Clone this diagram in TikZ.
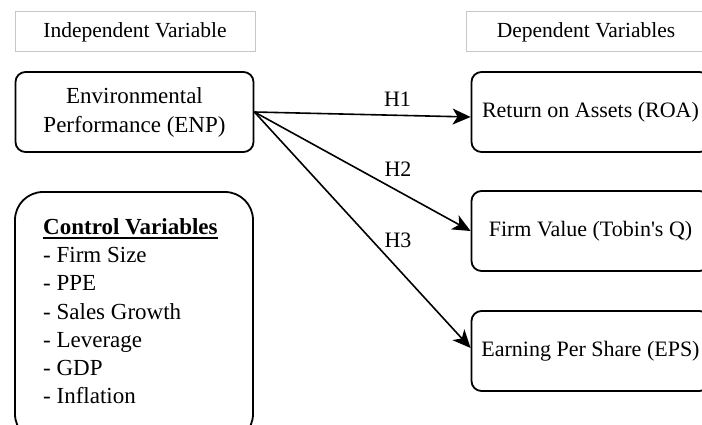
\documentclass[tikz,border=0pt]{standalone}
\usepackage{fontspec}
\setmainfont{Liberation Serif}
\usetikzlibrary{arrows.meta}
\newcommand{\sq}{\XeTeXglyph\XeTeXcharglyph"27 }
\newcommand{\thickul}[1]{\setbox0=\hbox{#1}\leavevmode\copy0\kern-\wd0\rule[-5pt]{\wd0}{1.8pt}}
\begin{document}
\begin{tikzpicture}[x=1pt,y=-1pt,
  hdr/.style={draw=black!22, line width=1pt, minimum width=240pt, minimum height=40pt, inner sep=0pt, font=\fontsize{21.5}{26}\selectfont},
  var/.style={draw, rounded corners=10pt, line width=1.8pt, minimum width=238pt, minimum height=80pt, inner sep=0pt, align=center},
  arr/.style={line width=1.6pt, -{Stealth[length=18pt, width=16pt, inset=5pt]}},
  lbl/.style={font=\fontsize{22}{26}\selectfont, inner sep=0pt}]
\useasboundingbox (0,0) rectangle (702,425);
\clip (0,0) rectangle (702,425);
\node[hdr] (iv) at (135,32) {Independent Variable};
\node[hdr] (dv) at (586,32) {Dependent Variables};
\node[var, font=\fontsize{23}{29}\selectfont] (enp) at (134.5,112) {\raisebox{-1.5pt}{\parbox{230pt}{\centering Environmental\\Performance (ENP)}}};
\node[var, font=\fontsize{22}{26}\selectfont] (roa) at (590.5,112) {Return on Assets (ROA)};
\node[var, font=\fontsize{22}{26}\selectfont] (fv) at (590.5,231) {Firm Value (Tobin\sq s Q)};
\node[var, font=\fontsize{22}{26}\selectfont] (eps) at (590.5,351) {Earning Per Share (EPS)};
\node[draw, rounded corners=28pt, line width=1.8pt, minimum width=238pt, minimum height=250pt, inner sep=0pt] (ctrl) at (134,317) {};
\node[anchor=north west, align=left, inner sep=0pt, font=\fontsize{23}{28.3}\selectfont] (ctrltxt) at (43,218)
  {\thickul{\bfseries Control Variables}\\- Firm Size\\- PPE\\- Sales Growth\\- Leverage\\- GDP\\- Inflation};
\draw[arr] (enp.east) -- ([yshift=-5pt]roa.west);
\draw[arr] (enp.east) -- (fv.west);
\draw[arr] (enp.east) -- ([yshift=3pt]eps.west);
\node[lbl] (h1) at (397.5,99.5) {H1};
\node[lbl] (h2) at (398,169.5) {H2};
\node[lbl] (h3) at (398,240.5) {H3};
\end{tikzpicture}
\end{document}
